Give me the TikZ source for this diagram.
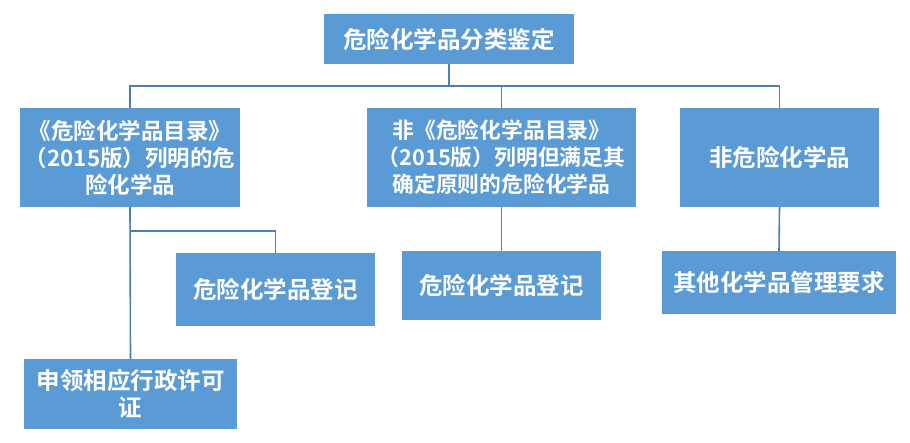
\documentclass[tikz,border=0pt]{standalone}
\usepackage{fontspec}
\newfontfamily\cjk{Noto Sans CJK SC}[BoldFont={Noto Sans CJK SC Bold}]
\definecolor{boxfill}{HTML}{5B9BD5}
\definecolor{linec}{HTML}{4A7EBB}
\begin{document}
\begin{tikzpicture}[x=1pt,y=-1pt,
  box/.style={rectangle,fill=boxfill,draw=none,inner sep=0pt,text=white,align=center,font=\cjk\bfseries\fontsize{23.5}{27}\selectfont},
  conn/.style={draw=linec,line width=1.6pt}]
\useasboundingbox (0,0) rectangle (910,443);
\node[box,minimum width=250pt,minimum height=50pt] (top) at (449,39) {危险化学品分类鉴定};
\node[box,minimum width=220pt,minimum height=99pt,font=\cjk\bfseries\fontsize{22.5}{27}\selectfont] (A) at (130,157.5) {《危险化学品目录》\\（2015版）列明的危\\险化学品};
\node[box,minimum width=269pt,minimum height=99pt,font=\cjk\bfseries\fontsize{21.8}{27}\selectfont] (B) at (501.5,157.5) {非《危险化学品目录》\\（2015版）列明但满足其\\确定原则的危险化学品};
\node[box,minimum width=199pt,minimum height=99pt] (C) at (779.5,157.5) {非危险化学品};
\node[box,minimum width=199pt,minimum height=73pt] (D) at (275.5,289.5) {危险化学品登记};
\node[box,minimum width=213pt,minimum height=70pt] (E) at (130.5,394) {申领相应行政许可\\证};
\node[box,minimum width=199pt,minimum height=69pt] (F) at (501.5,285.5) {危险化学品登记};
\node[box,minimum width=234pt,minimum height=63pt] (G) at (779,282.5) {其他化学品管理要求};
\coordinate (bus) at (449,86);
\coordinate (sub) at (130,231);
\draw[conn] (top.south) -- (bus);
\draw[conn] (A.north) |- (bus) -| (C.north);
\draw[conn] (B.north) -- (B.north |- bus);
\draw[conn] (A.south) -- (E.north);
\draw[conn] (sub) -| (D.north);
\draw[conn] (B.south) -- (F.north);
\draw[conn] (C.south) -- (G.north);
\end{tikzpicture}
\end{document}
